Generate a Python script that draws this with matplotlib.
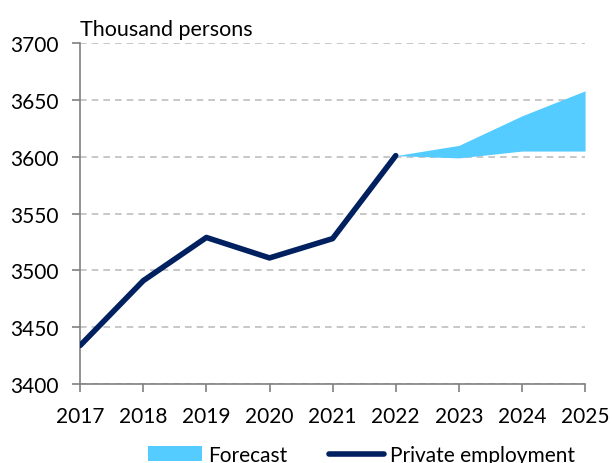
import matplotlib
matplotlib.use("Agg")
import matplotlib.pyplot as plt
from matplotlib.lines import Line2D
from matplotlib.patches import Patch

years = [2017, 2018, 2019, 2020, 2021, 2022]
private_employment = [3434, 3491, 3529, 3511, 3528, 3601]
fc_years = [2022, 2023, 2024, 2025]
fc_lower = [3601, 3599, 3605, 3605]
fc_upper = [3601, 3610, 3636, 3658]
xticks = list(range(2017, 2026))
yticks = [3400, 3450, 3500, 3550, 3600, 3650, 3700]

plt.rcParams['font.family'] = ['Lato', 'DejaVu Sans']
fig = plt.figure(figsize=(6.12, 4.64), dpi=100)
ax = fig.add_axes([0.131, 0.170, 0.825, 0.735])

ax.fill_between(fc_years, fc_lower, fc_upper, color='#55CCFF', linewidth=0, zorder=2)
ax.plot(years, private_employment, color='#002060', linewidth=4, zorder=3,
        solid_capstyle='round')

ax.set_xlim(2017, 2025)
ax.set_ylim(3400, 3700)
ax.set_xticks(xticks)
ax.set_yticks(yticks)
ax.tick_params(axis='both', labelsize=15, color='#808080', length=5.5, width=1.2)
ax.tick_params(axis='x', pad=10)
ax.tick_params(axis='y', pad=10)
ax.grid(axis='y', color='#BFBFBF', linestyle=(0, (4, 3)), linewidth=1.2)
ax.set_axisbelow(True)
for s in ['top', 'right']:
    ax.spines[s].set_visible(False)
for s in ['left', 'bottom']:
    ax.spines[s].set_color('#808080')
    ax.spines[s].set_linewidth(1.2)

ax.text(0.0, 1.012, 'Thousand persons', transform=ax.transAxes, fontsize=15.5,
        ha='left', va='bottom')

handles = [Patch(facecolor='#55CCFF', edgecolor='none', label='Forecast'),
           Line2D([0], [0], color='#002060', linewidth=4, label='Private employment',
                  solid_capstyle='round')]
fig.legend(handles=handles, loc='lower left', bbox_to_anchor=(0.242, -0.004),
           ncol=2, frameon=False, fontsize=15, handlelength=2.6,
           handletextpad=0.3, columnspacing=2.0, borderpad=0, borderaxespad=0)

fig.savefig('out.png', dpi=100)
